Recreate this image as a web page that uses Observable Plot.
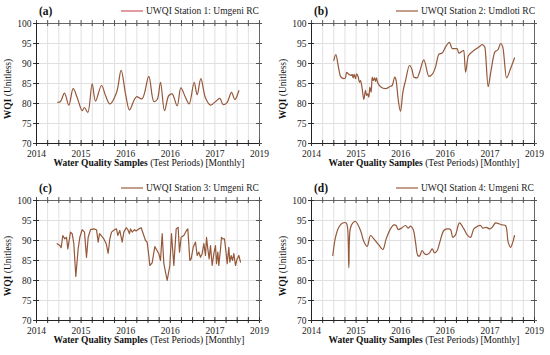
<!DOCTYPE html>
<html><head><meta charset="utf-8">
<script src="https://cdn.jsdelivr.net/npm/d3@7"></script>
<script src="https://cdn.jsdelivr.net/npm/@observablehq/plot@0.6"></script>
<style>
body{margin:0;background:#fff;}
#wrap{position:relative;width:550px;height:355px;}
.panel{position:absolute;width:275px;height:177px;}
</style></head><body><div id="wrap"></div>
<script>
const yearTicks = [2014, 2015, 2016, 2017, 2018, 2019];
const yearLabels = ["2014", "2015", "2016", "2016", "2017", "2019"];
const wqiTicks = [70, 75, 80, 85, 90, 95, 100];
const minorTicks = d3.range(2014, 2019.001, 0.25);

const st1T = [2014.478,2014.538,2014.628,2014.725,2014.822,2014.912,2015.024,2015.076,2015.150,2015.248,2015.323,2015.457,2015.547,2015.644,2015.794,2015.898,2015.996,2016.085,2016.182,2016.242,2016.369,2016.518,2016.631,2016.706,2016.780,2016.870,2016.967,2017.042,2017.154,2017.236,2017.341,2017.423,2017.535,2017.602,2017.685,2017.789,2017.901,2018.036,2018.111,2018.185,2018.275,2018.372,2018.447,2018.537];
const st1V = [80.3,80.5,82.6,79.6,83.7,81.5,78.2,79.0,77.8,84.9,80.6,84.5,82.0,79.9,82.7,88.3,82.4,78.4,80.7,81.7,81.2,86.8,80.5,81.0,85.3,78.2,82.0,82.4,79.4,83.9,81.5,79.9,85.3,82.2,86.2,81.4,79.6,80.7,81.3,79.7,80.3,82.8,81.0,83.2];

const st2T = [2014.501,2014.546,2014.598,2014.650,2014.725,2014.762,2014.785,2014.837,2014.889,2014.912,2014.934,2014.957,2014.987,2015.009,2015.046,2015.076,2015.099,2015.136,2015.173,2015.211,2015.233,2015.263,2015.286,2015.308,2015.338,2015.360,2015.383,2015.413,2015.435,2015.457,2015.480,2015.547,2015.659,2015.771,2015.809,2015.868,2015.898,2015.943,2015.996,2016.048,2016.108,2016.197,2016.257,2016.294,2016.369,2016.422,2016.519,2016.631,2016.706,2016.780,2016.855,2016.930,2017.004,2017.094,2017.154,2017.266,2017.303,2017.416,2017.453,2017.513,2017.602,2017.752,2017.827,2017.886,2017.961,2018.013,2018.111,2018.185,2018.238,2018.290,2018.372,2018.462,2018.552];
const st2V = [90.8,92.2,89.5,86.8,86.2,86.4,87.8,87.3,87.0,87.3,86.4,87.3,86.2,87.4,86.7,85.3,85.7,83.7,81.0,83.3,82.0,82.4,81.6,84.1,82.8,86.6,85.7,86.4,85.5,86.4,85.3,84.2,83.7,84.3,84.5,86.6,85.7,81.1,78.0,82.8,85.7,89.5,88.3,86.6,86.4,87.8,90.9,86.8,87.3,89.1,92.3,92.6,94.1,95.3,93.7,93.7,92.6,93.3,87.8,91.8,92.9,94.1,94.7,94.1,84.2,87.4,92.9,93.5,95.0,94.1,86.4,88.7,91.4];

const st3T = [2014.464,2014.523,2014.553,2014.590,2014.635,2014.673,2014.702,2014.762,2014.800,2014.837,2014.882,2014.934,2014.972,2015.024,2015.076,2015.121,2015.159,2015.211,2015.286,2015.345,2015.383,2015.413,2015.450,2015.510,2015.562,2015.607,2015.644,2015.682,2015.749,2015.794,2015.823,2015.868,2015.921,2015.958,2016.011,2016.048,2016.085,2016.108,2016.145,2016.197,2016.232,2016.294,2016.347,2016.406,2016.444,2016.481,2016.518,2016.541,2016.593,2016.653,2016.743,2016.780,2016.818,2016.855,2016.930,2016.990,2017.027,2017.079,2017.132,2017.176,2017.206,2017.243,2017.303,2017.363,2017.393,2017.438,2017.468,2017.513,2017.565,2017.602,2017.640,2017.677,2017.714,2017.752,2017.789,2017.812,2017.841,2017.871,2017.901,2017.939,2017.976,2018.013,2018.036,2018.066,2018.088,2018.126,2018.148,2018.178,2018.215,2018.253,2018.275,2018.312,2018.335,2018.365,2018.395,2018.425,2018.462,2018.499,2018.537,2018.574];
const st3V = [89.2,88.75,88.2,91.25,90.4,90.8,87.9,92.1,91.7,89.2,81.0,87.9,90.8,92.7,92.1,85.8,90.8,92.7,92.9,92.7,89.6,91.7,91.25,90.4,89.2,86.8,90.4,92.1,92.7,92.9,91.25,92.5,89.6,92.1,93.2,92.7,91.7,92.9,92.1,92.7,92.4,92.9,93.2,91.25,90.0,89.6,86.25,83.75,84.4,88.5,86.7,85.0,91.7,84.2,80.0,83.75,91.7,83.75,92.9,93.3,87.1,90.8,91.25,92.5,92.9,85.0,85.4,88.3,89.6,86.25,87.1,85.8,86.7,89.2,86.25,90.8,87.9,85.4,88.75,83.75,86.7,88.75,84.2,87.1,83.75,87.9,90.8,90.4,90.4,86.7,84.2,88.3,84.6,86.25,85.0,86.7,83.75,85.4,86.25,84.6];

const st4T = [2014.478,2014.538,2014.613,2014.688,2014.777,2014.810,2014.837,2014.870,2014.927,2014.987,2015.099,2015.173,2015.248,2015.323,2015.398,2015.510,2015.599,2015.674,2015.771,2015.846,2015.898,2015.943,2016.018,2016.108,2016.167,2016.220,2016.280,2016.332,2016.384,2016.422,2016.481,2016.534,2016.593,2016.646,2016.706,2016.758,2016.818,2016.877,2016.967,2017.042,2017.117,2017.169,2017.229,2017.318,2017.416,2017.490,2017.565,2017.640,2017.729,2017.789,2017.841,2017.916,2017.998,2018.051,2018.126,2018.200,2018.275,2018.350,2018.410,2018.462,2018.514,2018.552];
const st4V = [86.25,90.8,93.3,94.3,94.4,93.0,83.2,93.0,94.4,94.75,92.5,89.75,88.5,91.25,90.4,88.9,87.75,90.4,92.9,93.9,93.75,92.75,93.1,93.75,93.1,93.6,92.75,89.6,86.25,86.1,87.5,86.7,86.5,86.9,87.9,86.9,87.5,89.6,92.5,92.9,92.75,90.8,91.4,94.4,92.9,91.4,90.8,92.9,93.6,93.75,93.1,93.3,92.9,93.3,94.4,94.2,93.9,93.75,89.6,88.3,89.6,91.25];

const panels = [
  {t: st1T, v: st1V, letter: "(a)", name: "UWQI Station 1: Umgeni RC", curve: "catmull-rom", legendColor: "#cf5b63", left: 0, top: 0},
  {t: st2T, v: st2V, letter: "(b)", name: "UWQI Station 2: Umdloti RC", curve: "monotone-x", legendColor: "#9a5e3e", left: 275, top: 0},
  {t: st3T, v: st3V, letter: "(c)", name: "UWQI Station 3: Umgeni RC", curve: "linear", legendColor: "#9a5e3e", left: 0, top: 177},
  {t: st4T, v: st4V, letter: "(d)", name: "UWQI Station 4: Umgeni RC", curve: "catmull-rom", legendColor: "#9a5e3e", left: 275, top: 177}
];

const lineColor = "#95583a";
const serif = "'Liberation Serif', 'DejaVu Serif', serif";
const W = 275, H = 177, mL = 36, mR = 16, mT = 23, mB = 34;
const innerW = W - mL - mR, innerH = H - mT - mB;

for (const p of panels) {
  const data = p.t.map((x, i) => ({x, y: p.v[i]}));
  const chart = Plot.plot({
    width: W, height: H,
    marginLeft: mL, marginRight: mR, marginTop: mT, marginBottom: mB,
    style: {fontFamily: serif, fontSize: "9px", color: "#222", background: "transparent"},
    x: {domain: [2014, 2019]},
    y: {domain: [70, 100]},
    marks: [
      Plot.gridX(minorTicks, {stroke: "#e0e0e0", strokeOpacity: 1}),
      Plot.gridY(wqiTicks, {stroke: "#e0e0e0", strokeOpacity: 1}),
      Plot.frame({stroke: "#666"}),
      Plot.ruleX(minorTicks, {insetTop: innerH - 3, insetBottom: -3, stroke: "#333"}),
      Plot.ruleX(minorTicks, {insetTop: -3, insetBottom: innerH - 3, stroke: "#555"}),
      Plot.ruleY(wqiTicks, {insetLeft: -3, insetRight: innerW - 3, stroke: "#333"}),
      Plot.ruleY(wqiTicks, {insetLeft: innerW - 3, insetRight: -3, stroke: "#555"}),
      Plot.ruleX([2014], {stroke: "#222"}),
      Plot.ruleY([70], {stroke: "#222"}),
      Plot.axisX(yearTicks, {tickSize: 0, tickPadding: 7, label: null, fontFamily: serif, fontSize: 9.5, tickFormat: d => yearLabels[yearTicks.indexOf(d)]}),
      Plot.axisY(wqiTicks, {tickSize: 0, tickPadding: 5, label: null, fontFamily: serif, fontSize: 9.5}),
      Plot.line(data, {x: "x", y: "y", stroke: lineColor, strokeWidth: 1.2, curve: p.curve})
    ]
  });
  const svg = d3.select(chart);
  const xt = svg.append("text").attr("x", 149).attr("y", 166).attr("text-anchor", "middle")
    .style("font-size", "9.5px").style("font-family", serif).attr("fill", "#111");
  xt.append("tspan").attr("font-weight", "bold").text("Water Quality Samples");
  xt.append("tspan").text(" (Test Periods) [Monthly]");
  const yt = svg.append("text").attr("transform", "translate(11,89) rotate(-90)").attr("text-anchor", "middle")
    .style("font-size", "9.5px").style("font-family", serif).attr("fill", "#111");
  yt.append("tspan").attr("font-weight", "bold").text("WQI");
  yt.append("tspan").text(" (Unitless)");
  svg.append("text").attr("x", 39).attr("y", 15).attr("text-anchor", "start").attr("font-weight", "bold")
    .style("font-size", "11.5px").style("font-family", serif).attr("fill", "#111").text(p.letter);
  svg.append("line").attr("x1", 121).attr("x2", 143).attr("y1", 11).attr("y2", 11)
    .attr("stroke", p.legendColor).attr("stroke-width", 1.2);
  svg.append("text").attr("x", 146).attr("y", 14).attr("text-anchor", "start")
    .style("font-size", "9.5px").style("font-family", serif).attr("fill", "#222").text(p.name);
  const div = document.createElement("div");
  div.className = "panel";
  div.style.left = p.left + "px";
  div.style.top = p.top + "px";
  div.appendChild(chart);
  document.getElementById("wrap").appendChild(div);
}
</script>
</body></html>
